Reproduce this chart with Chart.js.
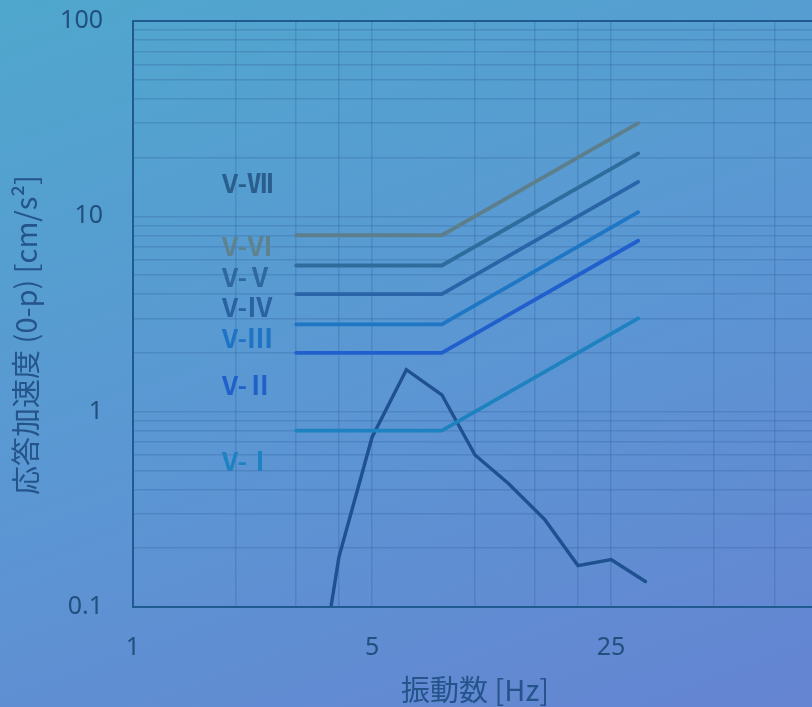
<!DOCTYPE html>
<html>
<head>
<meta charset="utf-8">
<script src="https://cdn.jsdelivr.net/npm/chart.js@4.4.1/dist/chart.umd.min.js"></script>
<style>
  html, body { margin: 0; padding: 0; height: 100%; overflow: hidden; }
  html { background: linear-gradient(160deg, #4fa7cd 0%, #5b97d3 50%, #6584d2 100%); }
  #wrap { width: 830px; height: 707px; }
</style>
</head>
<body>
<div id="wrap"><canvas id="chart"></canvas></div>
<script>
// criteria lines (V-I .. V-VI), frequency [Hz] vs acceleration [cm/s2]
const criteriaFreq = [3, 8, 30];
const levelI = [0.8, 0.8, 3.0];
const levelII = [2.0, 2.0, 7.5];
const levelIII = [2.8, 2.8, 10.5];
const levelIV = [4.0, 4.0, 15];
const levelV = [5.6, 5.6, 21];
const levelVI = [8.0, 8.0, 30];

// measured response, 1/3 octave bands
const responseFreq = [3.15, 4, 5, 6.3, 8, 10, 12.5, 16, 20, 25, 31.5];
const responseAcc = [0.013, 0.18, 0.74, 1.64, 1.22, 0.6, 0.43, 0.28, 0.163, 0.175, 0.135];

// axes
const xGrid = [1, 2, 3, 4, 5, 10, 15, 20, 25, 50, 75, 100];
const xTickLabels = [1, 5, 25];
const yGrid = [0.1, 0.2, 0.3, 0.4, 0.5, 0.6, 0.7, 0.8, 0.9, 1, 2, 3, 4, 5, 6, 7, 8, 9, 10, 20, 30, 40, 50, 60, 70, 80, 90, 100];
const yTickLabels = [0.1, 1, 10, 100];
const yTitle = '応答加速度 (0-p) [cm/s²]';

// level labels
const levelNames = ['V-Ⅶ', 'V-Ⅵ', 'V-Ⅴ', 'V-Ⅳ', 'V-Ⅲ', 'V-Ⅱ', 'V-Ⅰ'];
const labelAnchors = [14.8, 7.0, 4.9, 3.44, 2.39, 1.36, 0.555];
const labelFreq = 1.82;
const labelColors = ['#2a5e8e', '#5f8290', '#2f68a0', '#2a61a2', '#1e73c4', '#2160c9', '#1d82c2'];

const pts = (xs, ys) => xs.map((x, i) => ({ x: x, y: ys[i] }));

const lineDs = (data, color, w) => ({
  data: data,
  showLine: true,
  borderColor: color,
  borderWidth: w,
  borderCapStyle: 'round',
  pointRadius: 0,
  tension: 0,
  clip: 0
});

const tickColor = '#21507f';
const titleColor = '#24548a';
const titleFont = '"Noto Sans CJK JP", "Noto Sans", sans-serif';
const gridColor = 'rgba(45, 95, 155, 0.28)';

const frame = {
  id: 'frame',
  afterDraw(chart) {
    const { ctx, chartArea: a } = chart;
    ctx.save();
    ctx.strokeStyle = '#1f5a90';
    ctx.lineWidth = 2;
    ctx.strokeRect(a.left, a.top, a.right - a.left, a.bottom - a.top);
    ctx.restore();
  }
};

// y title sits a bit below the plot centre in the original
const sideTitle = {
  id: 'sideTitle',
  afterDraw(chart) {
    const { ctx, chartArea: a } = chart;
    ctx.save();
    ctx.translate(26, (a.top + a.bottom) / 2 + 21);
    ctx.rotate(-Math.PI / 2);
    ctx.font = '29px ' + titleFont;
    ctx.fillStyle = titleColor;
    ctx.textAlign = 'center';
    ctx.textBaseline = 'middle';
    ctx.fillText(yTitle, 0, 0);
    ctx.restore();
  }
};

const levelText = {
  id: 'levelText',
  afterDatasetsDraw(chart) {
    const { ctx, scales } = chart;
    ctx.save();
    ctx.font = 'bold 26px ' + titleFont;
    ctx.textBaseline = 'middle';
    ctx.textAlign = 'left';
    levelNames.forEach((t, i) => {
      ctx.fillStyle = labelColors[i];
      ctx.fillText(t, scales.x.getPixelForValue(labelFreq), scales.y.getPixelForValue(labelAnchors[i]));
    });
    ctx.restore();
  }
};

const noEdgePad = (s) => {
  s.paddingTop = 0;
  s.paddingBottom = 0;
  s.paddingLeft = 0;
  s.paddingRight = 0;
};

new Chart(document.getElementById('chart'), {
  type: 'scatter',
  data: {
    datasets: [
      lineDs(pts(criteriaFreq, levelI), '#1f82c0', 3.8),
      lineDs(pts(criteriaFreq, levelII), '#2160cc', 3.8),
      lineDs(pts(criteriaFreq, levelIII), '#1f76c4', 3.8),
      lineDs(pts(criteriaFreq, levelIV), '#2a64a8', 3.8),
      lineDs(pts(criteriaFreq, levelV), '#2f6c9e', 3.8),
      lineDs(pts(criteriaFreq, levelVI), '#5d7f8c', 3.8),
      lineDs(pts(responseFreq, responseAcc), '#1f5190', 3.4)
    ]
  },
  options: {
    responsive: true,
    maintainAspectRatio: false,
    animation: false,
    layout: { padding: { top: 21, right: 13, left: 0, bottom: 0 } },
    plugins: { legend: { display: false }, tooltip: { enabled: false } },
    scales: {
      x: {
        type: 'logarithmic',
        min: 1,
        max: 100,
        afterBuildTicks: (s) => { s.ticks = xGrid.map(v => ({ value: v })); },
        afterFit: (s) => { s.height = 100; noEdgePad(s); },
        grid: { color: gridColor, lineWidth: 1.5, drawTicks: false },
        border: { display: false },
        ticks: {
          autoSkip: false,
          maxRotation: 0,
          padding: 26,
          color: tickColor,
          font: { family: '"Noto Sans", sans-serif', size: 25 },
          callback: (v) => xTickLabels.includes(v) ? String(v) : ''
        },
        title: {
          display: true,
          text: '振動数 [Hz]',
          color: titleColor,
          padding: { top: 0, bottom: 0 },
          font: { family: titleFont, size: 29 }
        }
      },
      y: {
        type: 'logarithmic',
        min: 0.1,
        max: 100,
        afterBuildTicks: (s) => { s.ticks = yGrid.map(v => ({ value: v })); },
        afterFit: (s) => { s.width = 133; noEdgePad(s); },
        grid: { color: gridColor, lineWidth: 1.5, drawTicks: false },
        border: { display: false },
        ticks: {
          autoSkip: false,
          padding: 30,
          color: tickColor,
          font: { family: '"Noto Sans", sans-serif', size: 25 },
          callback: (v) => yTickLabels.includes(v) ? String(v) : ''
        }
      }
    }
  },
  plugins: [frame, sideTitle, levelText]
});
</script>
</body>
</html>
